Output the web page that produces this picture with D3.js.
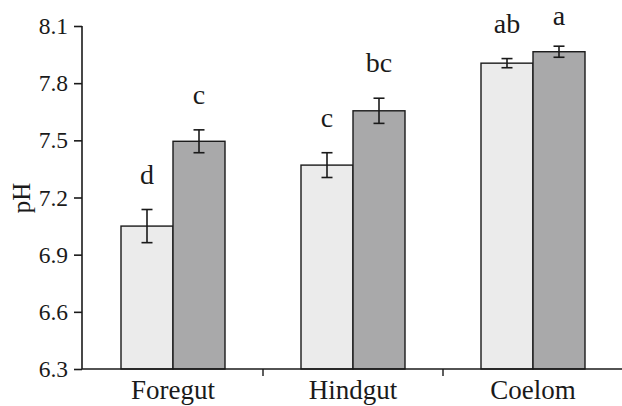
<!DOCTYPE html>
<html lang="en">
  <head>
    <meta charset="utf-8" />
    <title>pH by gut region</title>
    <script src="https://d3js.org/d3.v7.min.js"></script>
    <style>
      body { margin: 0; background: #fff; }
      text { font-family: "Liberation Serif", "Times New Roman", serif; fill: #1a1a1a; }
    </style>
  </head>
  <body>
    <div id="chart"></div>
    <script>
      var categories = ["Foregut", "Hindgut", "Coelom"];
      var series = ["light", "dark"];
      var means = {
        light: [7.05, 7.37, 7.905],
        dark: [7.495, 7.655, 7.965],
      };
      var errors = {
        light: [0.087, 0.065, 0.024],
        dark: [0.06, 0.066, 0.029],
      };
      var letters = {
        light: ["d", "c", "ab"],
        dark: ["c", "bc", "a"],
      };
      var yTicks = [6.3, 6.6, 6.9, 7.2, 7.5, 7.8, 8.1];

      var width = 622;
      var height = 406;
      var mLeft = 82, mTop = 26, mBottom = 369, mRight = 623;

      var svg = d3
        .select("#chart")
        .append("svg")
        .attr("width", width)
        .attr("height", height);

      var x = d3.scaleBand().domain(categories).range([mLeft + 1, mRight]);
      var x1 = d3.scaleBand().domain(series).range([38, 142]);
      var y = d3.scaleLinear().domain([6.3, 8.1]).range([mBottom, mTop]);
      var fill = { light: "#ebebeb", dark: "#a9a9aa" };

      var rows = [];
      categories.forEach(function (c, i) {
        series.forEach(function (s) {
          rows.push({ cat: c, s: s, v: means[s][i], e: errors[s][i], l: letters[s][i] });
        });
      });

      // bars
      svg
        .selectAll("rect.bar")
        .data(rows)
        .enter()
        .append("rect")
        .attr("class", "bar")
        .attr("x", function (d) { return x(d.cat) + x1(d.s); })
        .attr("width", x1.bandwidth())
        .attr("y", function (d) { return y(d.v); })
        .attr("height", function (d) { return mBottom - y(d.v); })
        .attr("fill", function (d) { return fill[d.s]; })
        .attr("stroke", "#1a1a1a")
        .attr("stroke-width", 1.4);

      // error bars
      var eb = svg.selectAll("g.err").data(rows).enter().append("g").attr("class", "err")
        .attr("stroke", "#1a1a1a").attr("stroke-width", 1.6);
      function cx(d) { return x(d.cat) + x1(d.s) + x1.bandwidth() / 2; }
      eb.append("line")
        .attr("x1", cx).attr("x2", cx)
        .attr("y1", function (d) { return y(d.v + d.e); })
        .attr("y2", function (d) { return y(d.v - d.e); });
      eb.append("line")
        .attr("x1", function (d) { return cx(d) - 5.5; })
        .attr("x2", function (d) { return cx(d) + 5.5; })
        .attr("y1", function (d) { return y(d.v + d.e); })
        .attr("y2", function (d) { return y(d.v + d.e); });
      eb.append("line")
        .attr("x1", function (d) { return cx(d) - 5.5; })
        .attr("x2", function (d) { return cx(d) + 5.5; })
        .attr("y1", function (d) { return y(d.v - d.e); })
        .attr("y2", function (d) { return y(d.v - d.e); });

      // significance letters
      svg
        .selectAll("text.sig")
        .data(rows)
        .enter()
        .append("text")
        .attr("class", "sig")
        .attr("x", cx)
        .attr("y", function (d) { return Math.max(y(d.v + d.e) - 26, 25); })
        .attr("text-anchor", "middle")
        .style("font-size", "28px")
        .text(function (d) { return d.l; });

      // y axis
      var yAxis = svg
        .append("g")
        .attr("transform", "translate(" + mLeft + ",0)")
        .call(d3.axisLeft(y).tickValues(yTicks).tickSize(8).tickPadding(6).tickFormat(d3.format(".1f")));
      yAxis.select(".domain").attr("d", "M0," + mTop + "V" + mBottom);
      yAxis.selectAll("line, path").attr("stroke", "#1a1a1a").attr("stroke-width", 1.6);
      yAxis.selectAll("text").style("font-size", "23.5px").attr("fill", "#1a1a1a")
        .style("font-family", "Liberation Serif, serif");

      // x axis: labels centred, ticks between categories
      var xAxis = svg
        .append("g")
        .attr("transform", "translate(0," + mBottom + ")");
      xAxis.append("line")
        .attr("x1", mLeft).attr("x2", width)
        .attr("stroke", "#1a1a1a").attr("stroke-width", 1.6);
      xAxis.selectAll("line.div")
        .data(categories.slice(1))
        .enter()
        .append("line")
        .attr("class", "div")
        .attr("x1", function (d) { return x(d); })
        .attr("x2", function (d) { return x(d); })
        .attr("y1", 0).attr("y2", 7)
        .attr("stroke", "#1a1a1a").attr("stroke-width", 1.4);
      xAxis.selectAll("text")
        .data(categories)
        .enter()
        .append("text")
        .attr("x", function (d) { return x(d) + x.bandwidth() / 2; })
        .attr("y", 30)
        .attr("text-anchor", "middle")
        .style("font-size", "27px")
        .text(function (d) { return d; });

      svg
        .append("text")
        .attr("transform", "rotate(-90)")
        .attr("x", -198)
        .attr("y", 30)
        .attr("text-anchor", "middle")
        .style("font-size", "25px")
        .text("pH");
    </script>
  </body>
</html>
